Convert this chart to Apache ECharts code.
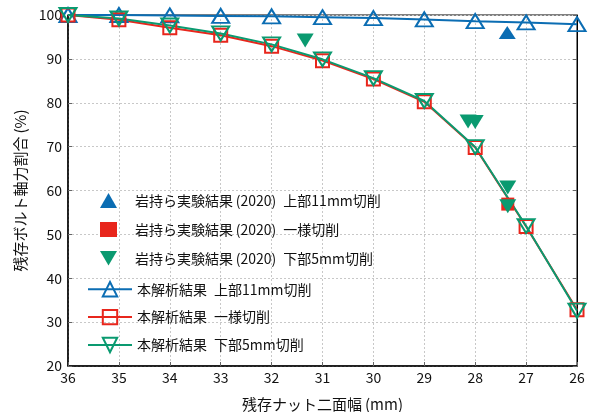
<!DOCTYPE html>
<html><head><meta charset="utf-8">
<script src="https://cdn.jsdelivr.net/npm/echarts@6/dist/echarts.min.js"></script>
<style>html,body{margin:0;padding:0;background:#fff}#c{width:590px;height:412px}</style>
</head><body><div id="c"></div>
<script>
const xTicks = [36,35,34,33,32,31,30,29,28,27,26];
const anaUpper = [100,100,99.9,99.8,99.7,99.5,99.3,99.0,98.6,98.3,97.9];
const anaUniform = [100,98.9,97.1,95.4,92.9,89.6,85.4,80.2,69.8,51.8,32.8];
const anaLower = [100,99.2,97.6,95.8,93.3,89.9,85.6,80.4,69.9,51.9,32.6];
const expUpperX = [27.37], expUpperY = [96.0];
const expUniformX = [27.36], expUniformY = [56.9];
const expLowerX = [31.34, 28.14, 28.0, 27.36, 27.36];
const expLowerY = [94.2, 75.7, 75.6, 60.7, 56.4];
const names = ['岩持ら実験結果\u2009(2020)\u2002上部11mm切削','岩持ら実験結果\u2009(2020)\u2002一様切削','岩持ら実験結果\u2009(2020)\u2002下部5mm切削','本解析結果\u2002上部11mm切削','本解析結果\u2002一様切削','本解析結果\u2002下部5mm切削'];
const blue='#0b6db3', red='#e8261c', green='#0a9a70';
const tri='triangle', inv='path://M0,0 L10,0 L5,8.6 Z';
const font='"Noto Sans CJK JP", sans-serif';
const zip=(a,b)=>a.map((v,i)=>[v,b[i]]);
const chart=echarts.init(document.getElementById('c'));
const scat=(n,x,y,c,sym,size)=>({name:n,type:'scatter',data:zip(x,y),symbol:sym,symbolSize:size,itemStyle:{color:c,opacity:1},z:4});
const line=(n,y,c,sym,size)=>({name:n,type:'line',data:zip(xTicks,y),symbol:sym,symbolSize:size,showAllSymbol:true,lineStyle:{color:c,width:2},itemStyle:{color:'transparent',borderColor:c,borderWidth:2},z:3});
const legText={fontFamily:font,fontSize:14,color:'#111'};
chart.setOption({
  animation:false,
  textStyle:{fontFamily:font},
  grid:{left:68,right:13,top:15,bottom:46,show:true,borderColor:'#000',borderWidth:1,outerBoundsMode:'none',containLabel:false},
  legend:[
    {orient:'vertical',left:95,top:188,itemWidth:17,itemHeight:15,itemGap:14,
     textStyle:Object.assign({padding:[0,0,0,13]},legText),
     data:[{name:names[0],icon:'triangle'},{name:names[1],icon:'rect'},{name:names[2],icon:inv}]},
    {orient:'vertical',left:82,top:276,itemWidth:44,itemHeight:18,itemGap:11.5,
     textStyle:legText,data:names.slice(3)}
  ],
  xAxis:{type:'value',inverse:true,min:26,max:36,interval:1,
    name:'残存ナット二面幅\u2009(mm)',nameLocation:'middle',nameGap:31,
    nameTextStyle:{fontFamily:font,fontSize:15,color:'#111'},
    axisLine:{lineStyle:{color:'#000',width:1.5}},
    axisTick:{inside:true,length:4,lineStyle:{color:'#666'}},
    axisLabel:{fontFamily:font,fontSize:14,color:'#111',margin:5},
    splitLine:{lineStyle:{color:'#c8c8c8',type:[2,2],width:1}}},
  yAxis:[{type:'value',min:20,max:100,interval:10,
    name:'残存ボルト軸力割合\u2009(%)',nameLocation:'middle',nameGap:30,
    nameTextStyle:{fontFamily:font,fontSize:15,color:'#111'},
    axisLine:{show:true,lineStyle:{color:'#000',width:1.5}},
    axisTick:{show:true,inside:true,length:4,lineStyle:{color:'#666'}},
    axisLabel:{fontFamily:font,fontSize:14,color:'#111',margin:6},
    splitLine:{lineStyle:{color:'#c8c8c8',type:[2,2],width:1}}},
    {type:'value',min:20,max:100,interval:10,position:'right',
    axisLine:{show:true,lineStyle:{color:'#000',width:1}},
    axisTick:{show:true,inside:true,length:4,lineStyle:{color:'#666'}},
    axisLabel:{show:false},splitLine:{show:false}}],
  series:[
    scat(names[0],expUpperX,expUpperY,blue,tri,[17,13]),
    scat(names[1],expUniformX,expUniformY,red,'rect',13),
    scat(names[2],expLowerX,expLowerY,green,inv,[17,14]),
    line(names[3],anaUpper,blue,tri,[17,14]),
    line(names[4],anaUniform,red,'rect',13),
    line(names[5],anaLower,green,inv,[17,14])
  ]
});
</script></body></html>
